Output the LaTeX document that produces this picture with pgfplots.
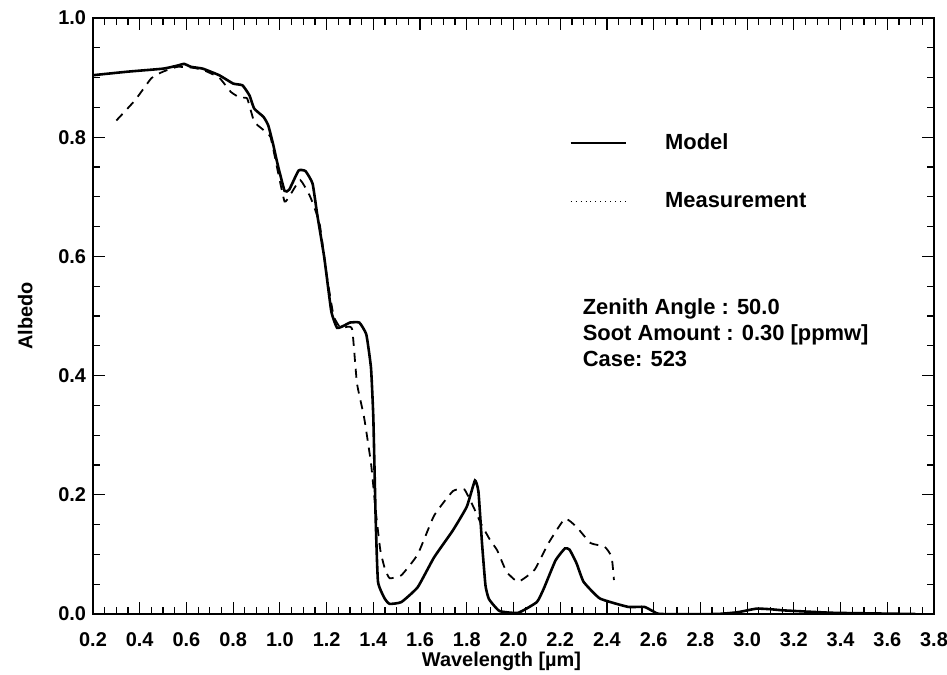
\documentclass[border=0pt]{standalone}
\usepackage{fontspec}
\setmainfont{Liberation Sans}
\usepackage{pgfplots}
\pgfplotsset{compat=1.18}
\begin{document}
\fontsize{10}{12}\selectfont\bfseries
\begin{tikzpicture}
\begin{axis}[
  scale only axis,
  width=420.5bp, height=298bp,
  xmin=0.2, xmax=3.8, ymin=0, ymax=1.0,
  xtick={0.2,0.4,...,3.81},
  ytick={0,0.2,...,1.01},
  minor xtick={0.25,0.3,...,3.79},
  minor ytick={0.05,0.1,...,0.99},
  tick label style={font=\fontsize{10}{12}\selectfont\bfseries},
  xticklabel style={yshift=-6bp,/pgf/number format/.cd,fixed,fixed zerofill,precision=1},
  yticklabel style={/pgf/number format/.cd,fixed,fixed zerofill,precision=1},
  /pgf/number format/assume math mode=true,
  tick align=inside,
  major tick length=6bp, minor tick length=3.5bp,
  tick style={black, line width=0.6pt},
  minor tick style={black, line width=0.6pt},
  axis line style={line width=0.8pt},
  xlabel={Wavelength [µm]},
  ylabel={Albedo},
  label style={font=\fontsize{10}{12}\selectfont\bfseries},
  xlabel style={yshift=4.5bp, xshift=-6bp},
  ylabel style={yshift=6bp},
  legend style={draw=none, fill=none, at={(axis cs:2.24,0.820)}, anchor=north west,
    row sep=16bp, font=\fontsize{11}{12}\selectfont\bfseries, inner xsep=0pt},
  legend cell align=left,
  legend image code/.code={\draw[#1] (0bp,0bp) -- (27.5bp,0bp); \path (45bp,0bp);},
]
\addlegendimage{black, line width=0.6pt}
\addlegendentry{Model}
\addlegendimage{black, line width=0.5pt, dotted}
\addlegendentry{Measurement}

\addplot[black, line width=1.3pt, smooth, tension=0.25, forget plot] coordinates {
(0.20,0.904) (0.35,0.910) (0.50,0.915) (0.56,0.920) (0.59,0.923) (0.62,0.918)
(0.67,0.915) (0.74,0.904) (0.80,0.890) (0.84,0.887) (0.87,0.870) (0.89,0.848)
(0.93,0.834) (0.95,0.820) (0.97,0.790) (0.99,0.755) (1.02,0.710) (1.04,0.712)
(1.08,0.744) (1.11,0.743) (1.14,0.722) (1.16,0.67) (1.19,0.598) (1.22,0.508)
(1.245,0.480) (1.28,0.485) (1.30,0.489) (1.34,0.489) (1.37,0.469) (1.39,0.413)
(1.40,0.329) (1.41,0.160) (1.42,0.054) (1.45,0.025) (1.47,0.017) (1.52,0.020)
(1.59,0.045) (1.66,0.095) (1.74,0.140) (1.80,0.180) (1.835,0.224) (1.85,0.205)
(1.865,0.12) (1.88,0.048) (1.895,0.025) (1.94,0.005) (2.02,0.002) (2.10,0.020)
(2.13,0.043) (2.18,0.090) (2.22,0.110) (2.24,0.108) (2.27,0.085) (2.30,0.054)
(2.37,0.026) (2.49,0.012) (2.56,0.012) (2.60,0.004) (2.63,0.0) (2.87,0.0)
(2.96,0.003) (3.04,0.009) (3.10,0.008) (3.16,0.006) (3.37,0.002) (3.72,0.0)
};

\addplot[black, line width=0.9pt, dash pattern=on 4.5bp off 3.5bp, smooth, tension=0.25, forget plot] coordinates {
(0.30,0.828) (0.38,0.862) (0.45,0.899) (0.50,0.910) (0.56,0.918)
(0.62,0.917) (0.67,0.913) (0.74,0.900) (0.79,0.876) (0.83,0.866) (0.86,0.865)
(0.89,0.826) (0.93,0.812) (0.96,0.800) (0.99,0.745) (1.02,0.692) (1.044,0.703)
(1.087,0.728) (1.13,0.700) (1.17,0.655) (1.20,0.570) (1.23,0.500) (1.26,0.480)
(1.29,0.482) (1.31,0.477) (1.33,0.387) (1.36,0.331) (1.39,0.253) (1.41,0.174)
(1.43,0.107) (1.45,0.075) (1.47,0.060) (1.52,0.065) (1.59,0.100) (1.66,0.165)
(1.74,0.206) (1.79,0.209) (1.84,0.170) (1.86,0.152) (1.90,0.124) (1.93,0.107)
(1.97,0.071) (2.02,0.054) (2.09,0.074) (2.15,0.119) (2.22,0.160) (2.27,0.146)
(2.33,0.119) (2.39,0.113) (2.42,0.096) (2.43,0.057)
};

\node[anchor=north west, align=left, inner sep=0pt, font=\fontsize{11}{13}\selectfont\bfseries]
  at (axis cs:2.295,0.529) {Zenith Angle : 50.0\\Soot Amount : 0.30 [ppmw]\\Case: 523};
\end{axis}
\pgfresetboundingbox
\path ([xshift=-46.5bp,yshift=-30.5bp]current axis.south west) rectangle ([xshift=6.5bp,yshift=9bp]current axis.north east);
\end{tikzpicture}
\end{document}
